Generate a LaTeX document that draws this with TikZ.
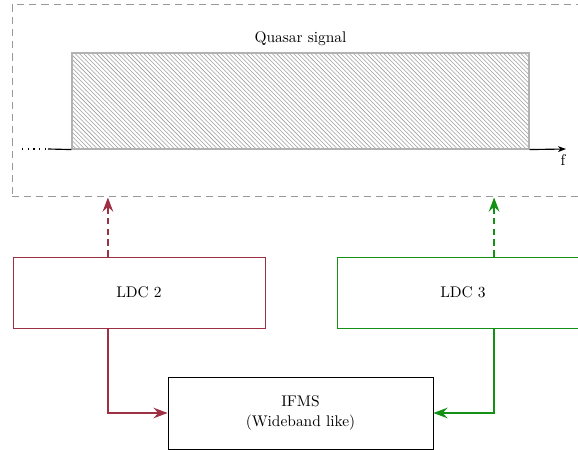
\documentclass[tikz,border=0pt]{standalone}
\usetikzlibrary{arrows.meta,patterns,calc}
\definecolor{ldcred}{RGB}{158,48,68}
\definecolor{ldcgreen}{RGB}{20,145,20}
\tikzset{
  every node/.style={font=\fontsize{10.8}{13.5}\selectfont},
  box/.style={draw,rectangle,minimum width=252*0.7pt,minimum height=71*0.7pt,inner sep=0pt,line width=0.55pt},
  link/.style={line width=0.85pt,-{Stealth[length=10pt,width=7.5pt,inset=3.5pt]}},
  uplink/.style={link,dash pattern=on 4.5pt off 3pt},
}
\begin{document}
\begin{tikzpicture}[x=0.7pt,y=-0.7pt]
\useasboundingbox (0,0) rectangle (578,450);
\clip (0,0) rectangle (578,450);

% spectrum panel
\node[draw=gray!80,dash pattern=on 5pt off 3.5pt,line width=0.7pt,rectangle,
      minimum width=578*0.7pt,minimum height=192*0.7pt,inner sep=0pt] (frame) at (301,101) {};
\node[draw=gray!60,line width=0.8pt,pattern=north west lines,pattern color=gray!75,
      minimum width=457*0.7pt,minimum height=96*0.7pt,inner sep=0pt] (band) at (300.5,101) {};
\node[above=1pt] (qlabel) at (band.north) {Quasar signal};
\coordinate (axdots) at (22,149);
\coordinate (axL) at (48,149);
\coordinate (axR) at (566,149);
\draw[line width=0.8pt,dash pattern=on 0.8pt off 3.2pt] (axdots) -- (axL);
\draw[line width=0.8pt] (axL) -- (band.south west);
\draw[line width=0.8pt,-{Stealth[length=5.5pt,width=4pt,inset=1.5pt]}] (band.south east) -- (axR);
\node (flabel) at (563,160) {f};

% converters
\node[box,draw=ldcred] (ldc2) at (139,292.5) {LDC 2};
\node[box,draw=ldcgreen] (ldc3) at (463,292.5) {LDC 3};
\node[draw,rectangle,line width=0.55pt,minimum width=265*0.7pt,minimum height=72*0.7pt,
      inner sep=0pt,align=center] (ifms) at (300.5,413) {IFMS\\(Wideband like)};

\coordinate (r2top) at ($(ldc2.north west)!0.377!(ldc2.north east)$);
\coordinate (r2bot) at ($(ldc2.south west)!0.377!(ldc2.south east)$);
\coordinate (g3top) at ($(ldc3.north east)!0.377!(ldc3.north west)$);
\coordinate (g3bot) at ($(ldc3.south east)!0.377!(ldc3.south west)$);

\draw[uplink,ldcred] (r2top) -- (r2top |- frame.south);
\draw[uplink,ldcgreen] (g3top) -- (g3top |- frame.south);
\draw[link,ldcred] (r2bot) |- (ifms.west);
\draw[link,ldcgreen] (g3bot) |- (ifms.east);
\end{tikzpicture}
\end{document}
